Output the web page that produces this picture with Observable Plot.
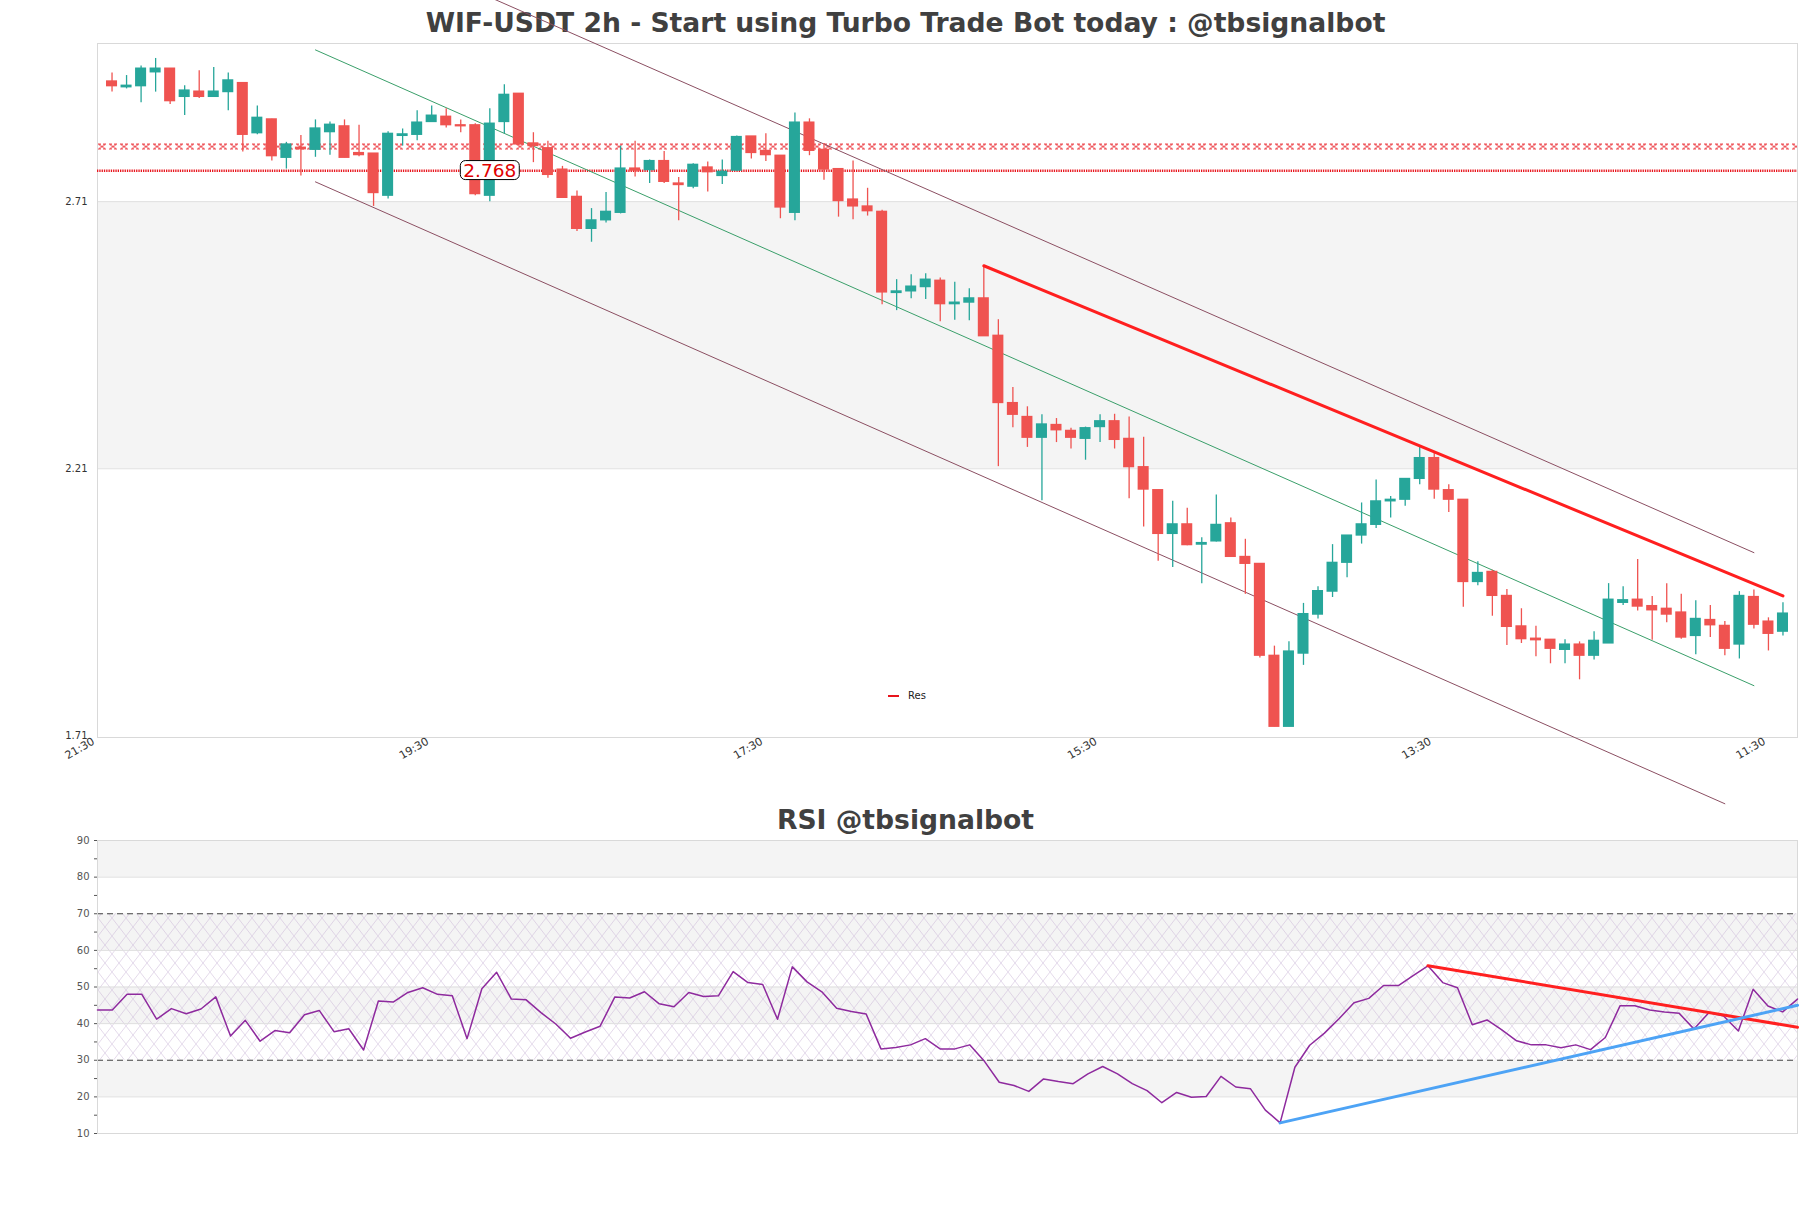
<!DOCTYPE html>
<html><head><meta charset="utf-8">
<script src="https://cdn.jsdelivr.net/npm/d3@7"></script>
<script src="https://cdn.jsdelivr.net/npm/@observablehq/plot@0.6"></script>
<style>
html,body{margin:0;padding:0;background:#fff;overflow:hidden;}
#wrap{position:relative;width:1811px;height:1208px;font-family:"DejaVu Sans",sans-serif;}
.title{position:absolute;left:0;width:1811px;text-align:center;font-weight:bold;font-size:26.6px;line-height:30px;color:#404040;}
#main{position:absolute;left:0;top:0;}
#rsi{position:absolute;left:0;top:810px;}
#legend{position:absolute;left:888px;top:690px;font-size:10px;color:#222;display:flex;align-items:center;}
#legend span.sw{display:inline-block;width:11px;height:2px;background:#e8141c;margin-right:9px;}
</style></head><body>
<div id="wrap">
<div class="title" style="top:8px">WIF-USDT 2h - Start using Turbo Trade Bot today : @tbsignalbot</div>
<div class="title" style="top:805px">RSI @tbsignalbot</div>
<div id="main"></div>
<div id="rsi"></div>
<div id="legend"><span class="sw"></span><span>Res</span></div>
</div>
<script>
// ---- data ----
const open = [2.935,2.924,2.926,2.952,2.959,2.906,2.916,2.906,2.915,2.932,
2.838,2.864,2.792,2.811,2.807,2.840,2.851,2.801,2.800,2.721,
2.833,2.835,2.859,2.869,2.853,2.853,2.721,2.859,2.912,2.819,
2.810,2.770,2.719,2.659,2.675,2.689,2.772,2.769,2.786,2.744,
2.738,2.774,2.758,2.768,2.832,2.805,2.796,2.689,2.858,2.807,
2.771,2.714,2.701,2.691,2.539,2.542,2.550,2.562,2.518,2.521,
2.529,2.459,2.333,2.307,2.268,2.292,2.281,2.266,2.288,2.299,
2.266,2.213,2.170,2.088,2.106,2.068,2.074,2.108,2.045,2.032,
1.860,1.727,1.864,1.937,1.980,2.034,2.085,2.105,2.149,2.152,
2.191,2.230,2.170,2.152,1.998,2.017,1.972,1.915,1.892,1.890,
1.871,1.881,1.860,1.883,1.959,1.965,1.953,1.948,1.941,1.897,
1.927,1.916,1.881,1.970,1.924,1.905];
const high = [2.951,2.946,2.964,2.978,2.959,2.927,2.955,2.961,2.951,2.932,
2.889,2.864,2.821,2.834,2.863,2.859,2.863,2.853,2.800,2.841,
2.846,2.880,2.889,2.884,2.863,2.856,2.884,2.929,2.912,2.839,
2.823,2.776,2.730,2.697,2.727,2.814,2.823,2.788,2.804,2.755,
2.781,2.784,2.788,2.833,2.832,2.837,2.796,2.876,2.865,2.819,
2.771,2.786,2.735,2.694,2.564,2.573,2.575,2.567,2.559,2.547,
2.590,2.489,2.362,2.326,2.311,2.304,2.286,2.288,2.311,2.312,
2.307,2.269,2.170,2.149,2.136,2.081,2.161,2.118,2.078,2.032,
1.878,1.886,1.958,1.989,2.068,2.085,2.146,2.189,2.158,2.191,
2.253,2.240,2.180,2.152,2.036,2.020,1.984,1.948,1.915,1.890,
1.890,1.886,1.905,1.995,1.989,2.040,1.971,1.995,1.975,1.963,
1.954,1.924,1.980,1.983,1.931,1.959];
const low = [2.915,2.921,2.895,2.915,2.892,2.871,2.903,2.906,2.880,2.803,
2.835,2.786,2.771,2.758,2.793,2.797,2.792,2.794,2.701,2.715,
2.814,2.824,2.858,2.848,2.839,2.721,2.710,2.837,2.814,2.783,
2.754,2.717,2.654,2.634,2.670,2.687,2.756,2.744,2.744,2.674,
2.734,2.728,2.742,2.767,2.790,2.785,2.678,2.674,2.796,2.750,
2.681,2.676,2.683,2.517,2.506,2.528,2.527,2.485,2.488,2.487,
2.458,2.214,2.287,2.250,2.150,2.259,2.247,2.226,2.259,2.247,
2.154,2.101,2.037,2.025,2.066,1.995,2.073,2.045,1.975,1.856,
1.727,1.727,1.842,1.929,1.969,2.006,2.069,2.098,2.118,2.140,
2.180,2.153,2.128,1.951,1.991,1.934,1.879,1.883,1.858,1.845,
1.845,1.815,1.852,1.883,1.954,1.944,1.889,1.922,1.891,1.862,
1.894,1.860,1.854,1.910,1.869,1.897];
const close = [2.926,2.927,2.959,2.959,2.898,2.918,2.906,2.916,2.937,2.835,
2.867,2.795,2.817,2.808,2.847,2.854,2.792,2.797,2.726,2.837,
2.836,2.858,2.871,2.853,2.851,2.724,2.856,2.910,2.817,2.814,
2.760,2.717,2.659,2.675,2.691,2.772,2.768,2.786,2.747,2.741,
2.779,2.765,2.766,2.831,2.801,2.797,2.699,2.858,2.805,2.770,
2.711,2.701,2.692,2.540,2.542,2.551,2.564,2.518,2.521,2.529,
2.458,2.333,2.311,2.268,2.293,2.282,2.268,2.286,2.299,2.264,
2.213,2.171,2.088,2.106,2.067,2.071,2.105,2.045,2.032,1.860,
1.727,1.868,1.938,1.981,2.034,2.085,2.106,2.149,2.152,2.191,
2.230,2.171,2.152,1.998,2.015,1.972,1.914,1.891,1.889,1.873,
1.881,1.860,1.888,1.965,1.964,1.952,1.945,1.937,1.894,1.929,
1.917,1.873,1.972,1.918,1.901,1.939];

const rsi = [43.7,43.7,48.0,48.0,41.2,44.1,42.7,44.0,47.3,36.6,
40.9,35.2,38.1,37.5,42.4,43.6,37.8,38.6,32.8,46.2,
45.9,48.5,49.8,48.0,47.6,35.9,49.5,54.0,46.7,46.5,
43.0,39.9,36.0,37.7,39.3,47.3,47.0,48.7,45.4,44.6,
48.5,47.4,47.6,54.2,51.2,50.7,41.2,55.5,51.4,48.7,
44.2,43.3,42.6,33.1,33.5,34.2,35.9,33.1,33.1,34.2,
29.7,24.0,23.1,21.5,24.9,24.2,23.6,26.3,28.3,26.3,
23.6,21.7,18.4,21.2,19.9,20.1,25.6,22.7,22.2,16.4,
12.9,28.1,34.1,37.4,41.4,45.7,46.9,50.4,50.4,53.1,
55.8,51.2,49.8,39.7,41.0,38.3,35.3,34.2,34.2,33.4,
34.2,32.9,36.2,44.9,44.9,43.7,43.2,42.8,38.5,43.0,
42.1,38.0,49.4,44.8,43.2,46.7];

const xTickPos = [-1, 22, 45, 68, 91, 114];
const xTickLabels = ["21:30","19:30","17:30","15:30","13:30","11:30"];
const yTicks = [1.71, 2.21, 2.71];
const priceBands = [[2.21, 2.71]];

const levelX = 2.813;      // hatched resistance level
const levelDot = 2.768;    // dotted level with label
const levelLabel = [{x: 26, y: 2.768, text: "2.768"}];

const channelMid = [{x: 14, y: 2.994}, {x: 113, y: 1.804}];
const channelUp = [{x: 14, y: 3.236}, {x: 113, y: 2.053}];
const channelLow = [{x: 14, y: 2.747}, {x: 111, y: 1.583}];
const resLine = [{x: 60, y: 2.590}, {x: 115, y: 1.972}];

const rsiTicks = [10,15,20,25,30,35,40,45,50,55,60,65,70,75,80,85,90];
const rsiBands = [[80,90],[60,70],[40,50],[20,30]];
const rsiHatch = [[30,70]];
const rsiGrid = [20,40,50,60,80];
const rsiLevels = [30,70];
const rsiRed = [{x: 90, y: 55.8}, {x: 115, y: 39.0}];
const rsiBlue = [{x: 80, y: 12.9}, {x: 115, y: 45.0}];

// ---- build ----
const GREEN = "#26a69a", RED = "#ef5350";
const candles = open.map((o, i) => ({i, o, h: high[i], l: low[i], c: close[i]}));
const ups = candles.filter(d => d.c >= d.o);
const downs = candles.filter(d => d.c < d.o);
const bw = 0.38;

const main = Plot.plot({
  width: 1811, height: 810,
  marginLeft: 97, marginRight: 14, marginTop: 43, marginBottom: 73,
  x: {domain: [-1, 116]},
  y: {domain: [1.707, 3.006]},
  style: {background: "transparent", overflow: "visible", fontFamily: "DejaVu Sans", fontSize: "10px", color: "#333"},
  marks: [
    Plot.rect(priceBands, {y1: d => d[0], y2: d => d[1], fill: "#f4f4f4"}),
    Plot.ruleY(yTicks.slice(1), {stroke: "#e0e0e0"}),
    Plot.frame({stroke: "#d9d9d9"}),
    Plot.axisY({ticks: yTicks, tickSize: 0, tickPadding: 10, tickFormat: d3.format(".2f"), label: null}),
    Plot.axisX({ticks: xTickPos, tickSize: 0, tickPadding: 3, tickRotate: -30, label: null, fontSize: 11, dx: -4,
      tickFormat: d => xTickLabels[xTickPos.indexOf(d)]}),
    Plot.ruleY([levelX], {stroke: "url(#xxpat)", strokeWidth: 6}),
    Plot.ruleY([levelDot], {stroke: "#e8141c", strokeWidth: 2.5, strokeDasharray: "1.3,1"}),
    Plot.line(channelUp, {x: "x", y: "y", stroke: "#8b4f62", strokeWidth: 1}),
    Plot.line(channelLow, {x: "x", y: "y", stroke: "#8b4f62", strokeWidth: 1}),
    Plot.line(channelMid, {x: "x", y: "y", stroke: "#3a9f6a", strokeWidth: 1}),
    Plot.ruleX(ups, {x: "i", y1: "l", y2: "h", stroke: GREEN, strokeWidth: 1.3}),
    Plot.ruleX(downs, {x: "i", y1: "l", y2: "h", stroke: RED, strokeWidth: 1.3}),
    Plot.rect(ups, {x1: d => d.i - bw, x2: d => d.i + bw, y1: "o", y2: "c", fill: GREEN, insetTop: -0.6, insetBottom: -0.6}),
    Plot.rect(downs, {x1: d => d.i - bw, x2: d => d.i + bw, y1: "o", y2: "c", fill: RED, insetTop: -0.6, insetBottom: -0.6}),
    Plot.line(resLine, {x: "x", y: "y", stroke: "#ff1f1f", strokeWidth: 3}),
    Plot.text(levelLabel, {x: "x", y: "y", text: "text", fill: "#e00000", fontSize: 18.5, fontFamily: "DejaVu Sans", className: "lvl-label"})
  ]
});
document.getElementById("main").appendChild(main);

const rsiChart = Plot.plot({
  width: 1811, height: 398,
  marginLeft: 97, marginRight: 14, marginTop: 30, marginBottom: 75,
  x: {domain: [0, 115], axis: null},
  y: {domain: [10, 90]},
  style: {background: "transparent", overflow: "visible", fontFamily: "DejaVu Sans", fontSize: "10px", color: "#555"},
  marks: [
    Plot.rect(rsiBands, {y1: d => d[0], y2: d => d[1], fill: "#f4f4f4"}),
    Plot.rect(rsiHatch, {y1: d => d[0], y2: d => d[1], fill: "url(#hatch)"}),
    Plot.ruleY(rsiGrid, {stroke: "#dedede"}),
    Plot.ruleY(rsiLevels, {stroke: "#444", strokeWidth: 1.1, strokeDasharray: "6,4"}),
    Plot.frame({stroke: "#d9d9d9"}),
    Plot.axisY({ticks: rsiTicks, tickSize: 3, tickPadding: 5, label: null,
      tickFormat: d => d % 10 === 0 ? String(d) : ""}),
    Plot.line(rsi, {x: (d, i) => i, y: d => d, stroke: "#8e2a9e", strokeWidth: 1.5}),
    Plot.line(rsiRed, {x: "x", y: "y", stroke: "#ff2020", strokeWidth: 3}),
    Plot.line(rsiBlue, {x: "x", y: "y", stroke: "#4da3f5", strokeWidth: 3})
  ]
});
document.getElementById("rsi").appendChild(rsiChart);

// ---- patterns & label box ----
const NS = "http://www.w3.org/2000/svg";
function addDefs(svg, html) {
  const defs = document.createElementNS(NS, "defs");
  defs.innerHTML = html;
  svg.insertBefore(defs, svg.firstChild);
}
const yl = main.scale("y").apply(levelX);
const xl = main.scale("x").apply(-1);
addDefs(main, `<pattern id="xxpat" patternUnits="userSpaceOnUse" x="${xl}" y="${yl - 3}" width="11" height="6">
  <path d="M1.5,0.6 L8.5,5.4 M1.5,5.4 L8.5,0.6 M1,0.6 L4,0.6 M6,0.6 L9,0.6 M1,5.4 L4,5.4 M6,5.4 L9,5.4" stroke="#e8141c" stroke-width="0.8" fill="none"/></pattern>`);
addDefs(rsiChart, `<pattern id="hatch" patternUnits="userSpaceOnUse" width="14" height="18">
  <path d="M0,0 L14,18 M14,0 L0,18" stroke="#c9b3d6" stroke-width="0.7" fill="none" opacity="0.7"/></pattern>`);

const t = main.querySelector("g.lvl-label text") || main.querySelector('g[aria-label="text"] text');
if (t) {
  const b = t.getBBox();
  const r = document.createElementNS(NS, "rect");
  r.setAttribute("x", b.x - 3); r.setAttribute("y", b.y + 1);
  r.setAttribute("width", b.width + 6); r.setAttribute("height", b.height - 2);
  r.setAttribute("rx", 5); r.setAttribute("fill", "white");
  r.setAttribute("stroke", "black"); r.setAttribute("stroke-width", 1);
  const g = t.parentNode;
  g.insertBefore(r, t);
  if (t.getAttribute("transform")) r.setAttribute("transform", t.getAttribute("transform"));
}
</script>
</body></html>
